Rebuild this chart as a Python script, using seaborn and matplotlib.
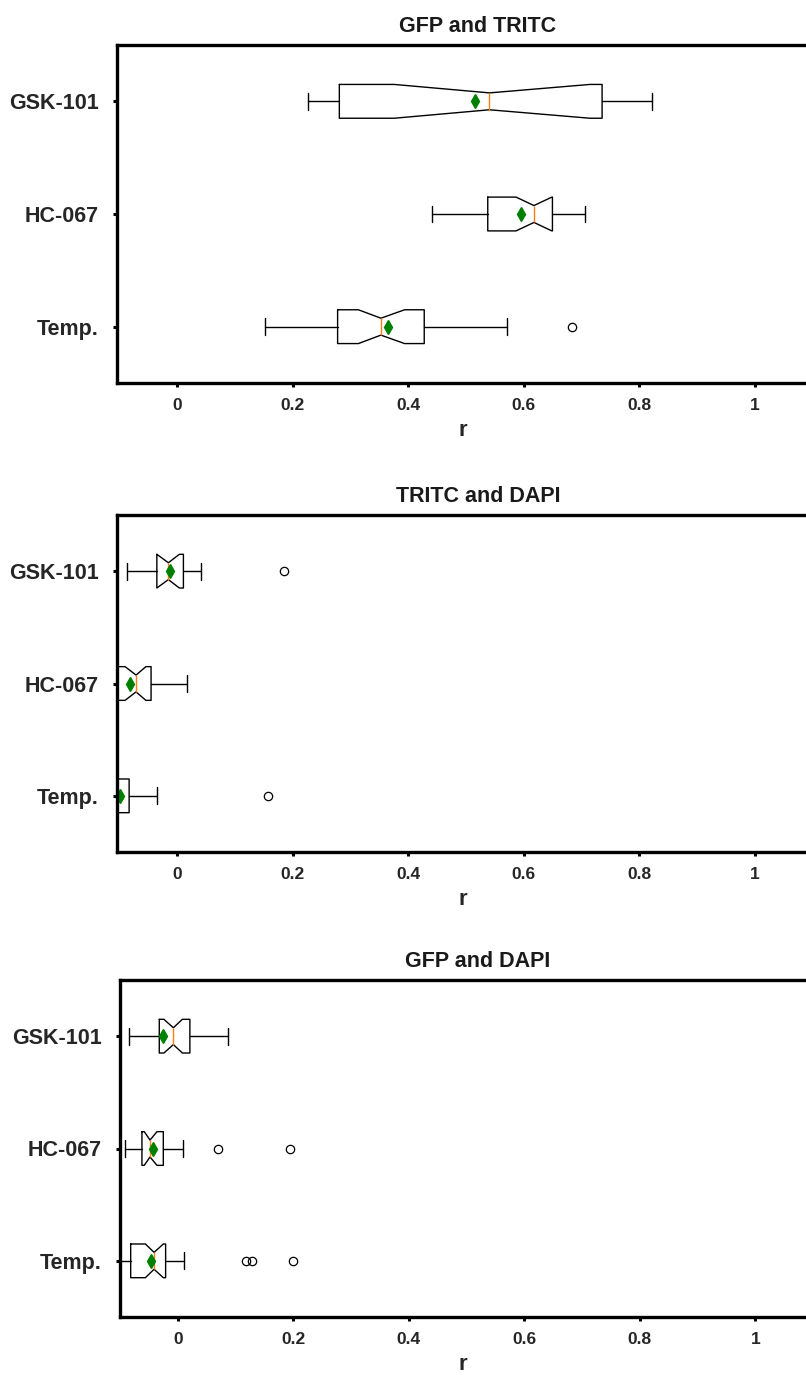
import matplotlib
matplotlib.use("Agg")
import matplotlib.pyplot as plt
import seaborn as sns

# ---- data -----------------------------------------------------------------
groups = ["GSK-101", "HC-067", "Temp."]
panel_titles = ["GFP and TRITC", "TRITC and DAPI", "GFP and DAPI"]
x_label = "r"
x_ticks = [0, 0.2, 0.4, 0.6, 0.8, 1]
x_tick_labels = ["0", "0.2", "0.4", "0.6", "0.8", "1"]

# Pearson r summary statistics, one row per panel, columns = groups
whislo = [[0.227, 0.441, 0.152], [-0.087, -0.120, -0.150], [-0.084, -0.091, -0.115]]
q1 = [[0.281, 0.538, 0.278], [-0.035, -0.106, -0.135], [-0.032, -0.062, -0.0815]]
cilo = [[0.376, 0.587, 0.314], [-0.035, -0.090, -0.140], [-0.024, -0.058, -0.056]]
med = [[0.541, 0.618, 0.353], [-0.015, -0.071, -0.122], [-0.0076, -0.048, -0.041]]
cihi = [[0.715, 0.649, 0.394], [0.004, -0.054, -0.107], [0.008, -0.036, -0.025]]
q3 = [[0.736, 0.650, 0.428], [0.011, -0.045, -0.083], [0.021, -0.025, -0.021]]
whishi = [[0.823, 0.706, 0.572], [0.042, 0.018, -0.034], [0.087, 0.009, 0.011]]
means = [[0.516, 0.596, 0.365], [-0.012, -0.081, -0.099], [-0.025, -0.042, -0.047]]
fliers = [
    [[], [], [0.684]],
    [[0.185], [], [0.157]],
    [[], [0.069, 0.195], [0.118, 0.128, 0.199]],
]

# ---- style ----------------------------------------------------------------
sns.set_theme(style="white")
plt.rcParams["font.family"] = ["Liberation Sans", "DejaVu Sans"]
plt.rcParams["font.weight"] = "bold"
plt.rcParams["axes.labelweight"] = "bold"
plt.rcParams["axes.titleweight"] = "bold"
plt.rcParams["text.color"] = "#1a1a1a"

W, H = 806, 1381
fig = plt.figure(figsize=(W / 100, H / 100), dpi=100)

# axes frames in pixels: (left, top, bottom, xmin); right side runs past the canvas
frames = [(117, 45, 383, -0.104), (117, 515, 852, -0.104), (120, 980, 1317, -0.100)]
px_per_unit = 577.5
xmax = 1.1

for p, (left, top, bottom, xmin) in enumerate(frames):
    right = left + (xmax - xmin) * px_per_unit
    ax = fig.add_axes([left / W, 1 - bottom / H, (right - left) / W, (bottom - top) / H])

    stats = []
    for g, name in enumerate(groups):
        stats.append(dict(
            label=name, whislo=whislo[p][g], q1=q1[p][g], cilo=cilo[p][g],
            med=med[p][g], cihi=cihi[p][g], q3=q3[p][g], whishi=whishi[p][g],
            mean=means[p][g], fliers=fliers[p][g],
        ))

    ax.bxp(
        stats, positions=[1, 2, 3], widths=0.3, orientation="horizontal",
        shownotches=True, showmeans=True, manage_ticks=False,
        boxprops=dict(color="black", linewidth=1.0),
        whiskerprops=dict(color="black", linewidth=1.0),
        capprops=dict(color="black", linewidth=1.0),
        medianprops=dict(color="#ff7f0e", linewidth=1.0),
        meanprops=dict(marker="d", markerfacecolor="green", markeredgecolor="green",
                       markersize=7.5),
        flierprops=dict(marker="o", markerfacecolor="none", markeredgecolor="black",
                        markersize=6, markeredgewidth=0.9),
    )

    ax.set_xlim(xmin, xmax)
    ax.set_ylim(3.5, 0.5)
    ax.set_yticks([1, 2, 3])
    ax.set_yticklabels(groups, fontsize=15.5, fontweight="bold")
    ax.set_xticks(x_ticks)
    ax.set_xticklabels(x_tick_labels, fontsize=12.5, fontweight="bold")
    ax.tick_params(axis="both", direction="out", length=3, width=2.2, color="black",
                   bottom=True, left=True)
    ax.tick_params(axis="y", pad=10)
    ax.tick_params(axis="x", pad=7.5)

    for s in ax.spines.values():
        s.set_visible(True)
        s.set_color("black")
        s.set_linewidth(2.4)

    ax.set_title(panel_titles[p], fontsize=15.5, fontweight="bold", pad=9,
                 x=(478 - left) / (right - left))
    ax.set_xlabel(x_label, fontsize=16, fontweight="bold")
    ax.xaxis.set_label_coords((463 - left) / (right - left), -0.11)

fig.savefig("out.png", dpi=100)
